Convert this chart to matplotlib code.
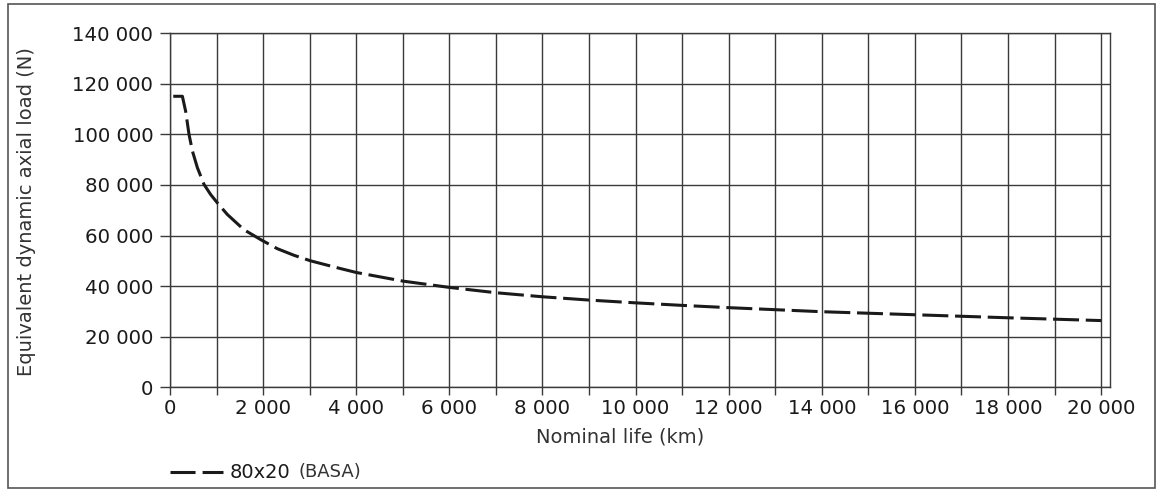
import matplotlib
matplotlib.use("Agg")
import matplotlib.pyplot as plt
from matplotlib.lines import Line2D
from matplotlib.patches import Rectangle
from matplotlib.ticker import FixedLocator

plt.rcParams['font.family'] = ['DejaVu Sans']

# ---- data ----
life_km = [70, 266, 337, 408, 481, 588, 730, 873, 1017, 1232, 1588, 1946,
           2305, 2661, 3020, 3519, 4000, 5000, 6000, 7000, 8000, 9000, 10000,
           11000, 12000, 13000, 14000, 16000, 18000, 20000]
load_n = [115000, 115000, 109000, 100000, 93400, 86800, 80200, 76200, 72900,
          68300, 62300, 58400, 54800, 52200, 50000, 47600, 45400, 42000,
          39500, 37400, 35800, 34500, 33400, 32400, 31500, 30700, 29900,
          28700, 27500, 26400]
series_name = "80x20"
series_note = "(BASA)"
x_major = [0, 2000, 4000, 6000, 8000, 10000, 12000, 14000, 16000, 18000, 20000]
x_labels = ["0", "2 000", "4 000", "6 000", "8 000", "10 000", "12 000",
            "14 000", "16 000", "18 000", "20 000"]
x_minor = [1000, 3000, 5000, 7000, 9000, 11000, 13000, 15000, 17000, 19000]
y_ticks = [0, 20000, 40000, 60000, 80000, 100000, 120000, 140000]
y_labels = ["0", "20 000", "40 000", "60 000", "80 000", "100 000",
            "120 000", "140 000"]

W, H = 1162, 490
fig = plt.figure(figsize=(W / 100, H / 100), dpi=100)
ax = fig.add_axes([170 / W, 1 - 387.4 / H, (1110 - 170) / W, (387.4 - 33) / H])

gc = '#3a3a3a'
txt = '#1a1a1a'
fs = 14.2

dash = (0, (8.5, 2.2))
ax.plot(life_km, load_n, color='#1a1a1a', lw=2.2, linestyle=dash,
        solid_capstyle='butt', dash_capstyle='butt', zorder=3)

ax.set_xlim(0, 20190)
ax.set_ylim(0, 140000)
ax.xaxis.set_major_locator(FixedLocator(x_major))
ax.set_xticklabels(x_labels)
ax.xaxis.set_minor_locator(FixedLocator(x_minor))
ax.set_yticks(y_ticks)
ax.set_yticklabels(y_labels)

ax.grid(True, which='both', axis='x', color=gc, lw=1.0)
ax.grid(True, which='major', axis='y', color=gc, lw=1.0)
ax.set_axisbelow(True)

ax.tick_params(axis='x', which='both', direction='out', length=6, width=1.0,
               color=gc, labelsize=fs, labelcolor=txt, pad=2.5)
ax.tick_params(axis='y', which='major', direction='out', length=7, width=1.0,
               color=gc, labelsize=fs, labelcolor=txt, pad=5)
for s in ax.spines.values():
    s.set_color(gc)
    s.set_linewidth(1.0)

fig.text(620 / W, 1 - 437 / H, "Nominal life (km)", ha='center', va='center',
         fontsize=14.0, color='#333333')
fig.text(27 / W, 1 - 212 / H, "Equivalent dynamic axial load (N)", ha='center',
         va='center', rotation=90, fontsize=14.0, color='#333333')

# outer frame
fig.patches.append(Rectangle((8 / W, 1 - 488 / H), (1155 - 8) / W, (488 - 4) / H,
                             transform=fig.transFigure, fill=False,
                             edgecolor='#555555', lw=1.2))

# legend
ly = 1 - 472 / H
fig.lines.append(Line2D([170 / W, 223 / W], [ly, ly], transform=fig.transFigure,
                        color='#1a1a1a', lw=2.2, linestyle=(0, (8.2, 2.3)),
                        dash_capstyle='butt'))
t1 = fig.text(230 / W, ly, series_name, ha='left', va='center', fontsize=14.0,
              color=txt)
fig.canvas.draw()
bb = t1.get_window_extent()
fig.text((bb.x1 + 8) / W, ly, series_note, ha='left', va='center',
         fontsize=13.0, color='#333333')

fig.savefig("out.png", dpi=100)
